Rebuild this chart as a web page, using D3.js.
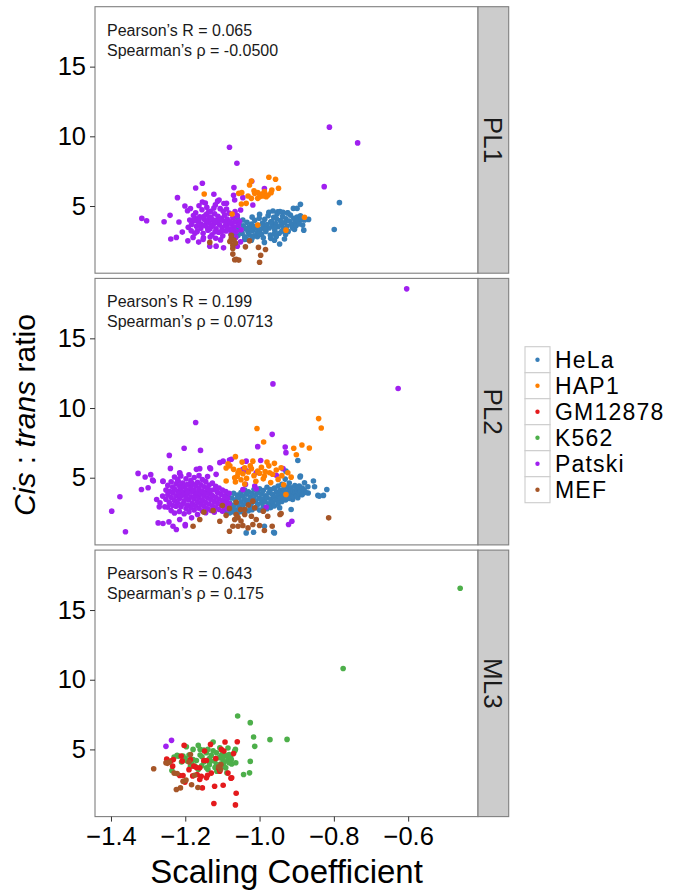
<!DOCTYPE html>
<html>
<head>
<meta charset="utf-8">
<script src="https://cdn.jsdelivr.net/npm/d3@7"></script>
<style>
  body { margin: 0; background: #fff; }
  text { font-family: "Liberation Sans", Arial, Helvetica, sans-serif; }
</style>
</head>
<body>
<svg id="chart" width="675" height="892"></svg>
<script>
// ---- cell lines (legend order) ----
const cellLines = ["HeLa", "HAP1", "GM12878", "K562", "Patski", "MEF"];
const cellColors = ["#377EB8", "#FF7F00", "#E41A1C", "#4DAF4A", "#A020F0", "#A65628"];
// drawing order inside each panel
const drawOrder = ["HeLa", "Patski", "HAP1", "K562", "GM12878", "MEF"];

// ---- axis ticks ----
const xTicks = [-1.4, -1.2, -1.0, -0.8, -0.6];
const yTicks = [5, 10, 15];
const xDomain = [-1.443, -0.412];
const yDomain = [0.18, 19.3];

// ---- panels ----
const panelNames = ["PL1", "PL2", "ML3"];
const pearsonR = ["0.065", "0.199", "0.643"];
const spearmanRho = ["-0.0500", "0.0713", "0.175"];

// ---- PL1: [scaling coefficient, cis:trans ratio] ----
const pl1_HeLa = [
  [-0.890,5.12],[-0.909,4.83],[-0.899,4.83],[-0.924,4.52],[-0.937,4.55],[-0.951,4.59],[-0.964,4.64],
  [-0.868,4.04],[-0.879,4.0],[-0.881,3.27],[-0.906,3.32],[-0.933,2.63],[-0.946,2.27],[-0.960,2.55],
  [-0.987,2.39],[-1.006,2.79],[-1.022,2.55],[-1.040,2.6],[-1.052,3.27],[-0.785,5.24],[-0.799,3.32],
  [-1.066,3.12],[-1.061,3.45],[-1.058,2.88],[-1.055,3.72],[-1.051,3.28],[-1.047,3.05],[-1.044,3.58],
  [-1.040,2.79],[-1.037,3.36],[-1.034,3.84],[-1.031,3.14],[-1.028,2.95],[-1.025,3.52],[-1.022,3.71],
  [-1.019,3.25],[-1.016,2.86],[-1.013,3.97],[-1.010,3.43],[-1.007,3.09],[-1.004,3.62],[-1.001,4.12],
  [-0.998,3.31],[-0.995,2.98],[-0.992,3.78],[-0.989,3.51],[-0.986,4.05],[-0.983,3.18],[-0.980,3.67],
  [-0.977,4.31],[-0.974,3.42],[-0.971,2.92],[-0.968,3.88],[-0.965,3.59],[-0.962,4.19],[-0.959,3.27],
  [-0.956,3.74],[-0.953,4.42],[-0.950,3.51],[-0.947,3.05],[-0.944,3.96],[-0.941,3.66],[-0.938,4.27],
  [-0.935,3.38],[-0.932,3.81],[-0.929,4.08],[-0.926,3.55],[-0.923,3.18],[-0.920,3.92],[-0.917,4.35],
  [-0.914,3.69],[-0.911,3.42],[-0.908,4.12],[-0.905,3.84],[-0.902,3.58],[-0.899,4.21],[-0.896,3.95],
  [-0.893,3.72],[-0.890,4.3],[-0.887,4.05],[-0.884,3.63],[-1.035,2.62],[-1.020,2.7],[-0.990,2.72],
  [-0.970,2.68],[-0.955,2.81],[-1.000,4.4],[-1.020,4.2],[-0.975,4.55],[-0.945,4.6],[-0.930,2.95],
  [-0.960,3.0],[-1.000,3.0],[-1.045,4.0],[-1.060,4.15],[-0.985,3.35],[-0.960,3.45],[-0.940,3.2],
  [-1.015,3.55],[-1.030,3.45],[-0.970,3.85],[-0.955,4.1],[-0.925,4.5]
];
const pl1_HAP1 = [
  [-0.975,7.06],[-0.957,6.92],[-0.949,6.27],[-0.967,6.15],[-0.969,5.95],[-0.987,6.03],[-1.005,5.96],
  [-1.013,5.91],[-1.000,5.67],[-0.982,5.67],[-0.977,5.79],[-1.027,6.51],[-1.022,6.8],[-1.056,5.91],
  [-1.048,5.96],[-1.031,5.72],[-1.022,5.55],[-1.036,5.19],[-1.049,5.14],[-1.005,5.55],[-0.991,5.72],
  [-1.074,4.42],[-1.005,3.63],[-0.929,3.27],[-0.879,4.19],[-1.149,5.86],[-0.994,5.85],[-1.015,6.1]
];
const pl1_GM12878 = [];
const pl1_K562 = [];
const pl1_Patski = [
  [-1.081,9.22],[-1.061,8.07],[-1.154,6.63],[-1.172,6.29],[-1.221,5.6],[-1.201,5.0],[-1.194,4.66],
  [-1.317,4.11],[-1.304,3.94],[-1.257,3.87],[-1.241,4.33],[-1.217,3.85],[-1.208,3.13],[-1.224,2.75],
  [-1.239,2.63],[-1.193,2.5],[-1.179,2.75],[-1.164,2.41],[-1.152,2.6],[-1.134,2.12],[-1.117,2.12],
  [-1.097,2.0],[-1.089,5.19],[-1.123,5.84],[-1.109,5.43],[-1.069,6.32],[-1.070,5.77],[-1.067,5.43],
  [-1.154,5.29],[-1.188,4.0],[-1.192,3.47],[-1.174,4.12],[-1.174,3.04],[-0.812,10.66],[-0.736,9.53],
  [-0.826,6.39],[-1.021,6.78],[-0.987,6.25],[-1.018,5.07],[-1.051,4.71],[-1.045,5.6],[-1.051,2.43],
  [-1.060,2.12],
  [-1.172,4.51],[-1.165,3.88],[-1.161,4.22],[-1.158,3.41],[-1.155,4.73],[-1.152,3.05],[-1.149,4.05],
  [-1.147,3.62],[-1.144,4.38],[-1.142,4.91],[-1.139,3.27],[-1.137,3.84],[-1.135,4.17],[-1.132,4.62],
  [-1.130,3.51],[-1.128,2.94],[-1.126,4.02],[-1.124,3.71],[-1.121,4.44],[-1.119,5.08],[-1.117,3.36],
  [-1.115,3.97],[-1.112,4.27],[-1.110,3.12],[-1.108,3.66],[-1.106,4.81],[-1.103,4.11],[-1.101,3.45],
  [-1.099,2.86],[-1.097,3.92],[-1.094,4.35],[-1.092,3.58],[-1.090,3.21],[-1.087,4.06],[-1.085,3.77],
  [-1.082,4.49],[-1.080,3.33],[-1.077,2.98],[-1.075,3.69],[-1.072,4.15],[-1.069,3.48],[-1.066,3.86],
  [-1.063,3.15],[-1.060,4.31],[-1.057,3.62],[-1.168,3.18],[-1.176,3.95],[-1.178,4.32],[-1.163,5.02],
  [-1.146,5.21],[-1.133,2.78],[-1.151,2.72],[-1.118,2.69],[-1.105,2.57],[-1.141,3.45],[-1.127,3.58],
  [-1.114,3.82],[-1.123,4.85],[-1.138,4.55],[-1.098,4.62],[-1.089,4.79],[-1.113,5.35],[-1.096,5.18],
  [-1.158,3.71],[-1.170,3.55],[-1.183,3.68],[-1.186,4.82],[-1.184,3.22],[-1.144,3.92],[-1.131,4.2],
  [-1.120,3.92],[-1.107,3.98],[-1.091,3.88],[-1.079,3.87],[-1.150,4.25],[-1.163,4.05],[-1.156,3.6],
  [-1.134,3.35],[-1.120,3.15],[-1.102,3.2],[-1.086,3.4],[-1.071,3.3],[-1.064,2.75],[-1.066,4.6],
  [-1.054,3.9],[-1.050,3.3]
];
const pl1_MEF = [
  [-1.076,2.68],[-1.069,2.55],[-1.072,2.19],[-1.038,2.07],[-1.027,2.5],[-1.003,2.03],[-0.984,1.88],
  [-0.997,1.47],[-1.000,0.97],[-1.072,1.55],[-1.063,1.17],[-1.056,1.12],[-1.067,1.14],[-1.134,2.39],
  [-1.076,2.9],[-1.072,1.96],[-1.065,2.35],[-1.080,2.45]
];

// ---- PL2 ----
const pl2_HeLa = [
  [-0.855,4.76],[-0.852,4.35],[-0.819,4.16],[-0.843,3.73],[-0.828,3.73],[-0.890,5.12],[-0.897,6.24],
  [-0.891,5.05],[-0.879,4.64],[-0.888,3.8],[-0.897,3.56],[-0.911,3.44],[-0.915,2.72],[-0.946,2.84],
  [-0.973,3.08],[-0.960,1.04],[-0.987,1.52],[-1.016,1.09],[-1.036,1.04],[-0.962,1.09],[-0.911,3.68],
  [-0.893,4.4],[-0.839,3.68],[-0.869,3.9],[-0.870,4.35],[-0.929,5.47],[-0.931,4.9],
  [-1.090,2.62],[-1.090,3.35],[-1.085,2.95],[-1.085,3.71],[-1.080,2.48],[-1.080,3.18],[-1.075,2.81],
  [-1.075,3.54],[-1.070,3.02],[-1.070,3.88],[-1.070,2.55],[-1.065,2.69],[-1.065,3.41],[-1.060,3.12],
  [-1.060,3.75],[-1.060,2.43],[-1.055,2.88],[-1.055,3.59],[-1.050,2.57],[-1.050,3.27],[-1.050,3.94],
  [-1.045,3.05],[-1.045,3.68],[-1.040,2.74],[-1.040,3.46],[-1.040,4.12],[-1.035,3.15],[-1.035,3.82],
  [-1.030,2.63],[-1.030,3.38],[-1.030,3.99],[-1.025,2.96],[-1.025,3.61],[-1.020,3.22],[-1.020,3.87],
  [-1.020,2.71],[-1.015,3.48],[-1.015,4.15],[-1.010,2.84],[-1.010,3.33],[-1.010,3.76],[-1.005,3.07],
  [-1.005,3.95],[-1.000,2.68],[-1.000,3.52],[-1.000,4.21],[-0.995,3.19],[-0.995,3.84],[-0.990,2.91],
  [-0.990,3.43],[-0.990,4.08],[-0.985,3.28],[-0.985,3.71],[-0.980,2.77],[-0.980,3.58],[-0.980,4.32],
  [-0.975,3.12],[-0.975,3.93],[-0.970,3.45],[-0.970,4.16],[-0.970,2.85],[-0.965,3.26],[-0.965,3.79],
  [-0.960,3.61],[-0.960,4.25],[-0.960,2.98],[-0.955,3.38],[-0.955,3.97],[-0.950,3.15],[-0.950,3.72],
  [-0.950,4.41],[-0.945,3.53],[-0.945,4.08],[-0.940,3.29],[-0.940,3.86],[-0.940,4.52],[-0.935,3.64],
  [-0.935,4.19],[-0.930,3.41],[-0.930,3.98],[-0.925,3.76],[-0.925,4.33],[-0.920,3.52],[-0.920,4.1],
  [-0.920,4.62],[-0.915,3.87],[-0.915,4.27],[-0.910,3.63],[-0.910,4.05],[-0.905,3.95],[-0.905,4.44],
  [-0.900,3.71],[-0.900,4.18],[-0.895,3.88],[-0.895,4.36],[-0.890,4.02],[-0.885,3.79],[-0.885,4.25],
  [-0.880,4.11],[-0.875,3.94]
];
const pl2_HAP1 = [
  [-0.841,9.24],[-0.834,8.57],[-0.886,7.35],[-0.866,7.13],[-1.007,8.53],[-0.989,7.56],[-0.908,7.11],
  [-0.901,6.65],[-0.960,6.03],[-0.980,6.12],[-1.018,6.19],[-1.047,6.12],[-1.065,6.51],[-0.942,5.72],
  [-0.924,5.36],[-0.915,5.04],[-0.987,5.12],[-0.973,5.36],[-1.005,5.47],[-1.022,5.65],[-1.040,5.72],
  [-1.058,5.36],[-1.067,5.0],[-0.929,3.8],[-1.090,4.76],[-1.090,5.7],
  [-1.060,5.1],[-1.055,5.52],[-1.050,4.85],[-1.045,5.28],[-1.035,4.95],[-1.030,5.41],[-1.025,5.85],
  [-1.015,5.15],[-1.010,4.75],[-1.000,5.32],[-0.995,5.75],[-0.990,4.92],[-0.985,5.45],[-0.975,5.85],
  [-0.970,4.65],[-0.965,5.25],[-0.955,5.55],[-0.950,4.88],[-0.940,5.15],[-0.935,4.5],[-1.040,4.55],
  [-1.065,4.7],[-1.070,5.6],[-1.080,5.85],[-1.085,6.0]
];
const pl2_GM12878 = [];
const pl2_K562 = [];
const pl2_Patski = [
  [-0.604,18.55],[-0.627,11.4],[-0.964,11.73],[-0.966,8.11],[-1.172,8.96],[-1.005,7.23],[-0.931,7.2],
  [-0.929,6.8],[-0.997,6.24],[-1.036,6.19],[-1.076,6.32],[-0.937,5.65],[-0.955,5.17],[-1.009,5.36],
  [-1.035,5.5],[-1.045,5.6],[-1.038,4.52],[-1.045,4.16],[-1.013,4.4],[-1.009,4.21],[-0.982,2.88],
  [-0.913,1.88],[-0.922,1.64],
  [-1.398,2.6],[-1.361,1.12],[-1.376,3.63],[-1.327,5.31],[-1.308,5.05],[-1.293,5.22],[-1.288,4.83],
  [-1.318,4.16],[-1.300,4.28],[-1.260,4.73],[-1.243,6.6],[-1.203,7.11],[-1.240,5.67],[-1.215,5.31],
  [-1.159,6.96],[-1.273,1.76],[-1.260,1.71],[-1.244,1.83],[-1.233,1.52],[-1.215,2.0],[-1.200,1.64],
  [-1.183,2.12],[-1.268,3.2],[-1.255,2.91],[-1.277,3.44],[-1.261,3.68],[-1.246,3.96],[-1.161,5.65],
  [-1.132,5.65],[-1.107,6.08],[-1.098,6.19],[-1.081,6.27],[-1.224,1.28],[-1.200,1.56],[-1.215,5.36],
  [-1.260,4.76],[-1.286,4.76],[-1.270,2.91],[-1.170,5.6],[-1.134,5.72],[-1.117,5.24],[-1.219,4.76],
  [-1.252,3.45],[-1.252,4.12],[-1.247,2.88],[-1.247,3.76],[-1.247,4.45],[-1.243,3.21],[-1.243,4.02],
  [-1.238,2.64],[-1.238,3.58],[-1.238,4.71],[-1.234,3.02],[-1.234,3.92],[-1.234,4.33],[-1.229,2.47],
  [-1.229,3.37],[-1.229,4.18],[-1.229,5.05],[-1.225,2.95],[-1.225,3.71],[-1.225,4.56],[-1.221,3.18],
  [-1.221,4.05],[-1.221,4.88],[-1.216,2.58],[-1.216,3.49],[-1.216,3.87],[-1.216,4.42],[-1.212,2.91],
  [-1.212,3.66],[-1.212,4.25],[-1.212,5.12],[-1.207,3.12],[-1.207,3.95],[-1.207,4.61],[-1.203,2.42],
  [-1.203,3.33],[-1.203,3.78],[-1.203,4.38],[-1.198,2.79],[-1.198,3.55],[-1.198,4.15],[-1.198,4.92],
  [-1.194,3.04],[-1.194,3.89],[-1.194,4.52],[-1.190,2.55],[-1.190,3.41],[-1.190,4.07],[-1.190,5.21],
  [-1.185,2.86],[-1.185,3.63],[-1.185,4.31],[-1.185,4.79],[-1.181,3.15],[-1.181,3.97],[-1.181,4.58],
  [-1.176,2.68],[-1.176,3.48],[-1.176,4.11],[-1.176,5.02],[-1.172,2.97],[-1.172,3.74],[-1.172,4.44],
  [-1.167,2.36],[-1.167,3.26],[-1.167,3.91],[-1.167,4.67],[-1.163,2.81],[-1.163,3.57],[-1.163,4.22],
  [-1.163,5.15],[-1.158,3.08],[-1.158,3.83],[-1.158,4.49],[-1.154,2.61],[-1.154,3.39],[-1.154,4.03],
  [-1.154,4.86],[-1.149,2.94],[-1.149,3.69],[-1.149,4.35],[-1.145,2.49],[-1.145,3.22],[-1.145,3.96],
  [-1.145,4.72],[-1.140,2.77],[-1.140,3.54],[-1.140,4.19],[-1.140,5.08],[-1.136,3.11],[-1.136,3.85],
  [-1.136,4.47],[-1.131,2.66],[-1.131,3.43],[-1.131,4.09],[-1.127,2.98],[-1.127,3.72],[-1.127,4.61],
  [-1.122,2.53],[-1.122,3.31],[-1.122,4.14],[-1.118,2.85],[-1.118,3.6],[-1.118,4.38],[-1.113,3.17],
  [-1.113,3.94],[-1.109,2.72],[-1.109,3.47],[-1.109,4.26],[-1.104,3.05],[-1.104,3.81],[-1.100,2.59],
  [-1.100,3.36],[-1.100,4.12],[-1.095,2.92],[-1.095,3.68],[-1.091,3.24],[-1.091,4.01],[-1.086,2.76],
  [-1.086,3.52],[-1.082,3.13],[-1.082,3.89]
];
const pl2_MEF = [
  [-0.945,2.36],[-0.814,2.12],[-0.966,1.52],[-0.987,1.21],[-1.000,1.57],[-1.018,1.64],[-1.031,1.4],
  [-1.045,1.57],[-1.058,1.52],[-1.072,1.52],[-1.081,1.16],[-1.009,2.0],[-1.022,2.24],[-1.040,2.36],
  [-1.040,2.72],[-1.013,2.84],[-1.018,3.32],[-1.063,2.36],[-1.067,2.0],[-1.063,3.24],[-1.081,2.8],
  [-1.179,1.52],[-1.161,2.0],[-1.125,2.65],[-1.150,2.53],[-1.107,1.88],[-1.058,2.14],[-1.051,2.72],
  [-0.942,2.43],[-0.978,2.24],[-1.090,2.3],[-1.100,3.0],[-0.990,2.6],[-1.030,3.05],[-1.050,1.9]
];

// ---- ML3 ----
const ml3_HeLa = [];
const ml3_HAP1 = [];
const ml3_GM12878 = [
  [-1.123,1.12],[-1.065,1.02],[-1.063,1.86],[-1.098,2.43],[-1.121,2.36],[-1.077,2.94],[-1.060,5.55],
  [-1.093,5.53],[-1.154,2.24],[-1.201,2.65],[-1.161,2.84],[-1.157,3.08],[-1.168,3.2],[-1.206,3.13],
  [-1.215,3.13],[-1.234,3.8],[-1.232,4.28],[-1.238,4.18],[-1.208,4.16],[-1.211,4.52],[-1.203,5.29],
  [-1.186,4.28],[-1.148,4.88],[-1.132,5.36],[-1.103,5.0],[-1.096,4.88],[-1.107,3.44],[-1.110,3.65],
  [-1.075,2.96],[-1.161,3.68],[-1.150,4.21],[-1.143,4.2],[-1.143,2.96],[-1.177,3.8],[-1.170,3.7],
  [-1.250,4.3],[-1.245,4.15],[-1.190,3.55],[-1.130,3.3],[-1.118,4.35],[-1.085,3.3],[-1.070,4.7],
  [-1.180,3.1],[-1.140,3.15]
];
const ml3_K562 = [
  [-0.460,16.56],[-0.775,10.81],[-1.059,7.4],[-1.025,6.92],[-1.016,5.89],[-1.013,5.22],[-0.972,5.7],
  [-0.926,5.72],[-1.025,4.14],[-1.027,3.32],[-1.043,3.2],[-1.064,4.04],[-1.236,3.49],[-1.219,4.52],
  [-1.197,5.19],[-1.179,5.0],[-1.165,5.29],[-1.160,5.0],[-1.125,5.53],[-1.107,5.12],[-1.139,5.0],
  [-1.065,5.0],[-1.067,4.88],[-1.082,4.64],[-1.085,4.28],[-1.082,4.04],[-1.091,3.68],[-1.096,3.8],
  [-1.088,3.32],[-1.115,3.44],[-1.139,3.56],[-1.143,3.68],[-1.132,4.16],[-1.121,4.16],[-1.130,4.57],
  [-1.143,4.76],[-1.155,4.47],[-1.170,4.21],[-1.183,4.04],[-1.179,4.28],[-1.194,4.16],[-1.206,4.52],
  [-1.222,4.57],[-1.186,3.8],[-1.174,3.8],[-1.165,3.56],[-1.156,3.83],[-1.116,3.92],[-1.116,4.76],
  [-1.103,4.57],[-1.099,4.28],[-1.092,4.57],[-1.076,4.28],[-1.078,4.45],[-1.110,4.4],[-1.125,4.9],
  [-1.150,4.95],[-1.135,4.35],[-1.105,3.95],[-1.120,3.7],[-1.150,4.1],[-1.200,4.35],[-1.210,4.1],
  [-1.230,4.45],[-1.190,4.6],[-1.160,4.6],[-1.100,4.9],[-1.085,5.1],[-1.135,3.9],[-1.095,4.1],
  [-1.075,3.95]
];
const ml3_Patski = [[-1.237,5.65],[-1.252,5.22]];
const ml3_MEF = [
  [-1.285,3.61],[-1.166,2.27],[-1.183,2.46],[-1.213,2.24],[-1.224,2.12],[-1.206,2.72],[-1.198,2.8],
  [-1.222,3.27],[-1.243,4.09],[-1.252,4.04],[-1.248,4.0],[-1.186,4.64],[-1.104,3.92],[-1.105,3.56],
  [-1.190,4.1],[-1.175,3.15],[-1.230,3.3],[-1.110,3.75]
];

const panelData = [
  { HeLa: pl1_HeLa, HAP1: pl1_HAP1, GM12878: pl1_GM12878, K562: pl1_K562, Patski: pl1_Patski, MEF: pl1_MEF },
  { HeLa: pl2_HeLa, HAP1: pl2_HAP1, GM12878: pl2_GM12878, K562: pl2_K562, Patski: pl2_Patski, MEF: pl2_MEF },
  { HeLa: ml3_HeLa, HAP1: ml3_HAP1, GM12878: ml3_GM12878, K562: ml3_K562, Patski: ml3_Patski, MEF: ml3_MEF }
];

// ---- layout ----
const plotLeft = 95, plotRight = 478, stripW = 30.7;
const panelTop0 = 6.7, panelH = 266.5, panelStep = 271.7;
const border = "#7f7f7f";

const svg = d3.select("#chart");
const color = d3.scaleOrdinal().domain(cellLines).range(cellColors);
const x = d3.scaleLinear().domain(xDomain).range([plotLeft, plotRight]);

panelNames.forEach((name, i) => {
  const top = panelTop0 + i * panelStep;
  const y = d3.scaleLinear().domain(yDomain).range([top + panelH, top]);
  const g = svg.append("g");

  g.append("rect")
    .attr("x", plotLeft).attr("y", top)
    .attr("width", plotRight - plotLeft).attr("height", panelH)
    .attr("fill", "#fff");

  // points
  drawOrder.forEach(line => {
    g.append("g").selectAll("circle")
      .data(panelData[i][line])
      .join("circle")
      .attr("cx", d => x(d[0]))
      .attr("cy", d => y(d[1]))
      .attr("r", 2.8)
      .attr("fill", color(line));
  });

  // panel border
  g.append("rect")
    .attr("x", plotLeft).attr("y", top)
    .attr("width", plotRight - plotLeft).attr("height", panelH)
    .attr("fill", "none").attr("stroke", border).attr("stroke-width", 1.1);

  // strip
  g.append("rect")
    .attr("x", plotRight).attr("y", top)
    .attr("width", stripW).attr("height", panelH)
    .attr("fill", "#cccccc").attr("stroke", border).attr("stroke-width", 1.1);
  g.append("text")
    .attr("transform", `translate(${plotRight + stripW / 2},${top + panelH / 2}) rotate(90)`)
    .attr("text-anchor", "middle")
    .attr("dy", "0.36em")
    .attr("font-size", 26)
    .attr("fill", "#1a1a1a")
    .text(name);

  // y axis
  const ya = g.append("g")
    .attr("transform", `translate(${plotLeft},0)`)
    .call(d3.axisLeft(y).tickValues(yTicks).tickSize(5).tickPadding(4).tickFormat(d3.format("d")));
  ya.select(".domain").remove();
  ya.selectAll("line").attr("stroke", "#333");
  ya.selectAll("text").attr("font-size", 25.5).attr("fill", "#000")
    .style("font-family", '"Liberation Sans", Arial, sans-serif');

  // correlation annotation
  const ann = g.append("text").attr("x", 107).attr("font-size", 16).attr("fill", "#1a1a1a");
  ann.append("tspan").attr("x", 107).attr("y", top + 29).text(`Pearson\u2019s R = ${pearsonR[i]}`);
  ann.append("tspan").attr("x", 107).attr("y", top + 49).text(`Spearman\u2019s \u03c1 = ${spearmanRho[i]}`);
});

// x axis under the last panel
const bottom = panelTop0 + 2 * panelStep + panelH;
const xa = svg.append("g")
  .attr("transform", `translate(0,${bottom})`)
  .call(d3.axisBottom(x).tickValues(xTicks).tickSize(5).tickPadding(5).tickFormat(d3.format(".1f")));
xa.select(".domain").remove();
xa.selectAll("line").attr("stroke", "#333");
xa.selectAll("text").attr("font-size", 25.5).attr("fill", "#000")
  .style("font-family", '"Liberation Sans", Arial, sans-serif');

// axis titles
svg.append("text")
  .attr("x", (plotLeft + plotRight) / 2).attr("y", 883)
  .attr("text-anchor", "middle").attr("font-size", 33).attr("fill", "#000")
  .text("Scaling Coefficient");

const yt = svg.append("text")
  .attr("transform", "translate(34.5,415) rotate(-90)")
  .attr("text-anchor", "middle").attr("font-size", 30).attr("fill", "#000");
yt.append("tspan").attr("font-style", "italic").text("Cis");
yt.append("tspan").text(" : ");
yt.append("tspan").attr("font-style", "italic").text("trans");
yt.append("tspan").text(" ratio");

// legend
const legendX = 525, legendY = 346.7, keyW = 25, keyH = 26;
const legend = svg.append("g");
cellLines.forEach((line, k) => {
  const ky = legendY + k * keyH;
  legend.append("rect")
    .attr("x", legendX).attr("y", ky).attr("width", keyW).attr("height", keyH)
    .attr("fill", "#fff").attr("stroke", "#cccccc").attr("stroke-width", 1.1);
  legend.append("circle")
    .attr("cx", legendX + keyW / 2).attr("cy", ky + keyH / 2).attr("r", 2.2)
    .attr("fill", color(line));
  legend.append("text")
    .attr("x", legendX + keyW + 5).attr("y", ky + keyH / 2 + 8.5)
    .attr("font-size", 23).attr("letter-spacing", 1.2).attr("fill", "#000")
    .text(line);
});
</script>
</body>
</html>
